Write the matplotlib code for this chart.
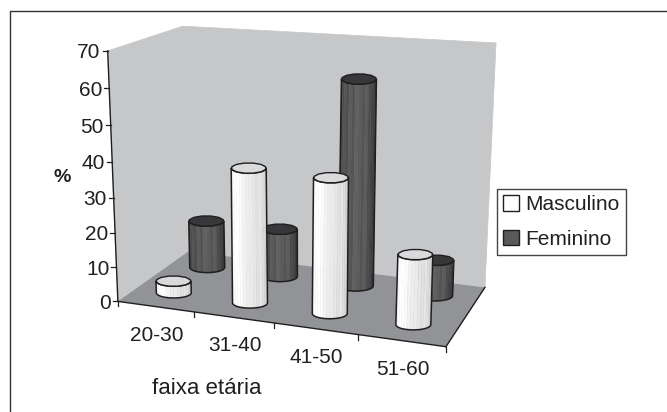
import numpy as np
import matplotlib
matplotlib.use('Agg')
import matplotlib.pyplot as plt
from matplotlib.patches import Patch, Polygon

plt.rcParams['font.family'] = ['Liberation Sans', 'DejaVu Sans']

categories = ['20-30', '31-40', '41-50', '51-60']
masculino = [3.5, 38.5, 38, 19.5]
feminino = [14.5, 14.5, 60, 10.5]
y_ticks = [0, 10, 20, 30, 40, 50, 60, 70]

TEXT = '#231f20'
EDGE = '#1f1f20'
WALL = '#c6c7c9'
FLOOR = '#929396'
DEPTH_M = 0.25
DEPTH_F = 0.75
RADIUS = 17.5
CAP = 5.2

# box corners (category, depth, value) -> picture pixels, to fit the 3d view
corners = [
    ((0, 0, 0), (118, 301)),
    ((0, 0, 70), (107.5, 51)),
    ((0, 1, 0), (188, 252)),
    ((0, 1, 70), (183, 26)),
    ((4, 1, 0), (485, 287)),
    ((4, 1, 70), (496, 43)),
    ((4, 0, 0), (446, 347)),
]


def fit_projection(pairs):
    rows = []
    for (x, d, v), (u, w) in pairs:
        rows.append([x, d, v, 1, 0, 0, 0, 0, -u * x, -u * d, -u * v, -u])
        rows.append([0, 0, 0, 0, x, d, v, 1, -w * x, -w * d, -w * v, -w])
    _, _, vt = np.linalg.svd(np.array(rows, dtype=float))
    return vt[-1].reshape(3, 4)


PROJ = fit_projection(corners)


def project(x, d, v):
    p = PROJ @ np.array([x, d, v, 1.0])
    return p[0] / p[2], p[1] / p[2]


def draw_cylinder(ax, cat, depth, value, shades, cap_color):
    bx, by = project(cat + 0.5, depth, 0)
    tx, ty = project(cat + 0.5, depth, value)
    n = len(shades)
    ang = np.linspace(np.pi, 0, n + 1)
    xs = np.cos(ang) * RADIUS
    ys = np.sin(ang) * CAP
    for i in range(n):
        quad = [(tx + xs[i], ty + ys[i]), (tx + xs[i + 1], ty + ys[i + 1]),
                (bx + xs[i + 1], by + ys[i + 1]), (bx + xs[i], by + ys[i])]
        ax.add_patch(Polygon(quad, closed=True, facecolor=str(shades[i]), edgecolor=str(shades[i]), lw=0.3))
    # outline of the body then the cap (few sides, the reference caps look faceted)
    outline = [(tx + a, ty + b) for a, b in zip(xs, ys)] + [(bx + a, by + b) for a, b in zip(xs[::-1], ys[::-1])]
    ax.add_patch(Polygon(outline, closed=True, fill=False, edgecolor=EDGE, lw=1.1, joinstyle='round'))
    a2 = np.linspace(0, 2 * np.pi, 13) + np.pi / 12
    cap = np.c_[tx + RADIUS * np.cos(a2), ty + CAP * np.sin(a2)]
    ax.add_patch(Polygon(cap, closed=True, facecolor=cap_color, edgecolor=EDGE, lw=1.0, joinstyle='round'))


fig = plt.figure(figsize=(6.67, 4.12), dpi=100)
ax = fig.add_axes([0, 0, 1, 1])
ax.set_xlim(0, 667)
ax.set_ylim(412, 0)
ax.axis('off')

# outer frame, open at the bottom and right like the scan
ax.plot([9.5, 9.5, 667], [412, 11, 11], color='#333333', lw=1.0)

# walls and floor
ax.add_patch(Polygon([project(0, 0, 0), project(0, 0, 70), project(0, 1, 70), project(0, 1, 0)], facecolor=WALL, edgecolor=WALL, lw=0.5))
ax.add_patch(Polygon([project(0, 1, 0), project(0, 1, 70), project(4, 1, 70), project(4, 1, 0)], facecolor=WALL, edgecolor=WALL, lw=0.5))
ax.add_patch(Polygon([project(0, 0, 0), project(0, 1, 0), project(4, 1, 0), project(4, 0, 0)], facecolor=FLOOR, edgecolor='none'))

# axis lines
for a, b in [((0, 0, 0), (0, 0, 70)), ((0, 0, 0), (4, 0, 0)), ((4, 0, 0), (4, 1, 0))]:
    pa, pb = project(*a), project(*b)
    ax.plot([pa[0], pb[0]], [pa[1], pb[1]], color=EDGE, lw=1.0)

for v in y_ticks:
    px, py = project(0, 0, v)
    ax.plot([px - 5, px], [py, py], color=EDGE, lw=0.9)
    ax.text(px - 7, py + 2, str(v), ha='right', va='center', fontsize=15, color=TEXT)

for i in range(len(categories) + 1):
    px, py = project(i, 0, 0)
    ax.plot([px, px], [py, py + 5], color=EDGE, lw=0.9)

for i, lab in enumerate(categories):
    px, py = project(i + 0.5, 0, 0)
    ax.text(px + 1, py + 28.5, lab, ha='center', va='center', fontsize=15, color=TEXT)

ax.text(62, 177, '%', ha='center', va='center', fontsize=14, fontweight='bold', color=TEXT)
ax.text(207, 389, 'faixa etária', ha='center', va='center', fontsize=16, color=TEXT)

shades_m = [0.9, 0.96, 0.99, 1.0, 1.0, 0.98, 0.95, 0.93, 0.92, 0.9, 0.88, 0.9, 0.87, 0.85, 0.82, 0.78]
shades_f = [0.2, 0.24, 0.3, 0.33, 0.3, 0.36, 0.33, 0.38, 0.36, 0.33, 0.36, 0.3, 0.27, 0.24, 0.22, 0.2]

for i, val in enumerate(feminino):
    draw_cylinder(ax, i, DEPTH_F, val, shades_f, '#38383a')
for i, val in enumerate(masculino):
    draw_cylinder(ax, i, DEPTH_M, val, shades_m, '#d9dadb')

handles = [Patch(facecolor='white', edgecolor=EDGE, lw=1.0, label='Masculino'),
           Patch(facecolor='#58595b', edgecolor=EDGE, lw=1.0, label='Feminino')]
leg = ax.legend(handles=handles, loc='upper left', bbox_to_anchor=(497, 189), bbox_transform=ax.transData,
                fontsize=15, frameon=True, fancybox=False, framealpha=1, edgecolor='#444444',
                borderpad=0.3, borderaxespad=0, handlelength=0.75, handleheight=0.75,
                handletextpad=0.3, labelspacing=0.75, labelcolor=TEXT)
leg.get_frame().set_linewidth(1.0)

fig.savefig('out.png', dpi=100)
